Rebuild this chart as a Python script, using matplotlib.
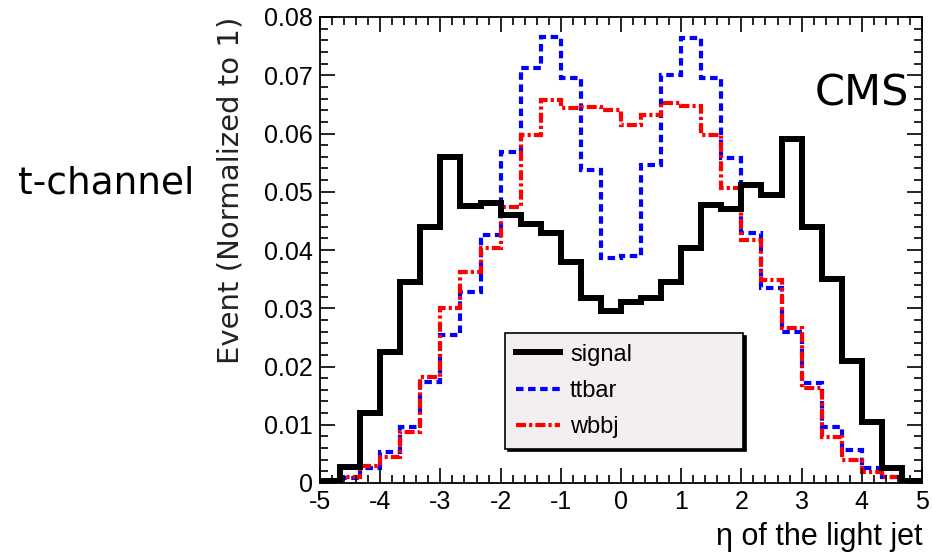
import numpy as np
import matplotlib
matplotlib.use("Agg")
import matplotlib.pyplot as plt
from matplotlib.lines import Line2D
from matplotlib.ticker import MultipleLocator

# ---- data (30 bins of width 1/3 from -5 to 5) ----
eta_min, eta_max, n_bins = -5.0, 5.0, 30
signal = [0.0003, 0.0027, 0.0120, 0.0225, 0.0345, 0.0440, 0.0560, 0.0475, 0.0480, 0.0460,
          0.0445, 0.0430, 0.0380, 0.0318, 0.0295, 0.0310, 0.0318, 0.0345, 0.0403, 0.0477,
          0.0470, 0.0512, 0.0494, 0.0590, 0.0440, 0.0350, 0.0210, 0.0105, 0.0026, 0.0003]
ttbar = [0.0000, 0.0009, 0.0026, 0.0053, 0.0096, 0.0173, 0.0254, 0.0328, 0.0426, 0.0568,
         0.0712, 0.0766, 0.0695, 0.0537, 0.0386, 0.0390, 0.0546, 0.0700, 0.0764, 0.0695,
         0.0558, 0.0429, 0.0335, 0.0260, 0.0172, 0.0096, 0.0057, 0.0026, 0.0010, 0.0000]
wbbj = [0.0000, 0.0010, 0.0030, 0.0045, 0.0088, 0.0182, 0.0300, 0.0362, 0.0403, 0.0474,
        0.0597, 0.0657, 0.0643, 0.0645, 0.0640, 0.0614, 0.0632, 0.0652, 0.0647, 0.0597,
        0.0506, 0.0418, 0.0349, 0.0266, 0.0163, 0.0079, 0.0040, 0.0019, 0.0010, 0.0000]
labels = ["signal", "ttbar", "wbbj"]
colors = ["black", "blue", "red"]

edges = np.linspace(eta_min, eta_max, n_bins + 1)

W, H = 933, 552
fig = plt.figure(figsize=(W / 100, H / 100), dpi=100)
ax = fig.add_axes([320 / W, 1 - 483 / H, (922 - 320) / W, (483 - 17) / H])

styles = [
    dict(color=colors[0], lw=4.3, linestyle="-"),
    dict(color=colors[1], lw=3.0, linestyle=(0, (1.8, 1.1))),
    dict(color=colors[2], lw=3.0, linestyle=(0, (2.4, 0.75, 0.75, 0.75))),
]
# draw order: ttbar, wbbj, signal
ax.stairs(ttbar, edges, baseline=None, **styles[1])
ax.stairs(wbbj, edges, baseline=None, **styles[2])
ax.stairs(signal, edges, baseline=None, **styles[0])

ax.set_xlim(eta_min, eta_max)
ax.set_ylim(0, 0.08)
ax.xaxis.set_major_locator(MultipleLocator(1))
ax.xaxis.set_minor_locator(MultipleLocator(0.2))
ax.yaxis.set_major_locator(MultipleLocator(0.01))
ax.yaxis.set_minor_locator(MultipleLocator(0.002))
ax.yaxis.set_major_formatter(plt.FuncFormatter(lambda v, p: "0" if abs(v) < 1e-9 else f"{v:.2f}"))
ax.xaxis.set_major_formatter(plt.FuncFormatter(lambda v, p: f"{v:g}"))

ax.tick_params(which="both", direction="in", top=True, right=True, width=1.2, colors="black")
ax.tick_params(which="major", length=11, pad=5, labelsize=18)
ax.tick_params(which="minor", length=5.5)
for lab in ax.get_xticklabels() + ax.get_yticklabels():
    lab.set_fontfamily("Liberation Sans")
for sp in ax.spines.values():
    sp.set_linewidth(1.3)

ax.set_xlabel("η of the light jet", fontsize=22, family="Liberation Sans", loc="right", labelpad=6)
ax.set_ylabel("Event (Normalized to 1)", fontsize=21, family="DejaVu Sans", loc="top",
              color="#222222", labelpad=14)

fig.text(18 / W, 1 - 183 / H, "t-channel", fontsize=27, family="DejaVu Sans", va="center", ha="left")
fig.text(862 / W, 1 - 94 / H, "CMS", fontsize=31, family="DejaVu Sans", va="center", ha="center")

handles = [Line2D([], [], **styles[i]) for i in range(3)]
leg = ax.legend(handles, labels, loc="upper left",
                bbox_to_anchor=((505 - 320) / 602, (483 - 333) / 466, (743 - 505) / 602, 0.0),
                mode="expand", fancybox=False, framealpha=1, facecolor="#f3eff1",
                edgecolor="black", shadow={"color": "black", "alpha": 1.0},
                prop={"family": "Liberation Sans", "size": 17}, handlelength=1.9,
                handletextpad=0.4, labelspacing=0.6, borderpad=0.45, borderaxespad=0)
leg.get_frame().set_linewidth(1.2)

fig.savefig("out.png", dpi=100)
